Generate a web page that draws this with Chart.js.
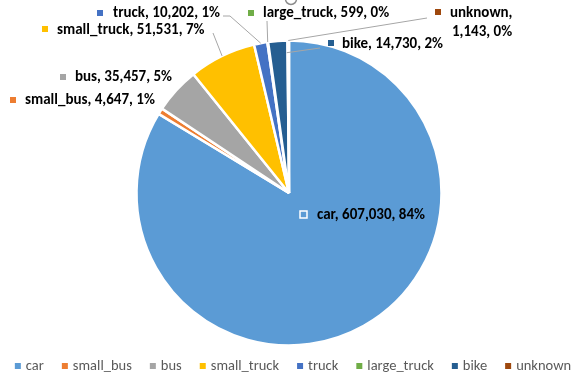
<!DOCTYPE html>
<html><head><meta charset="utf-8">
<script src="https://cdn.jsdelivr.net/npm/chart.js@4/dist/chart.umd.min.js"></script>
<style>html,body{margin:0;padding:0;background:#fff;}#wrap{width:578px;height:385px;position:relative;}</style>
</head><body><div id="wrap"><canvas id="c" width="578" height="385"></canvas></div>
<script>
const categories = ['car','small_bus','bus','small_truck','truck','large_truck','bike','unknown'];
const counts = [607030, 4647, 35457, 51531, 10202, 599, 14730, 1143];
const colors = ['#5B9BD5','#ED7D31','#A5A5A5','#FFC000','#4472C4','#70AD47','#255E91','#9E480E'];

const FONT = 'Carlito, Lato, "Open Sans", sans-serif';

// label placement (layout only)
const labelLayout = {
  car:         {mx:300, my:214, tx:317, ty:215, outlined:true},
  small_bus:   {mx:10,  my:100, tx:25,  ty:100},
  bus:         {mx:60,  my:77,  tx:75,  ty:77},
  small_truck: {mx:42,  my:29,  tx:57,  ty:30, leader:{from:[213,33], t:0.5, rf:1}},
  truck:       {mx:97,  my:13,  tx:113, ty:13, leader:{from:[223,16], via:[230,16], t:0.5, rf:1}},
  large_truck: {mx:248, my:13,  tx:263, ty:13, leader:{from:[267,21], t:0.5, rf:1}},
  bike:        {mx:328, my:43,  tx:342, ty:44, leader:{from:[320,48], t:0.95, rf:0.92}},
  unknown:     {mx:435, my:12,  tx:450, ty:13, wrapGap:19, leader:{from:[427,18], t:0.5, rf:1}}
};
const legendLayout = {centerX: 293, y: 366, box: 6, boxGap: 5, itemGap: 18, fontSize: 14.5};

const total = counts.reduce((a,b)=>a+b,0);
const fmt = v => v.toLocaleString('en-US');

const labelPlugin = {
  id: 'pieLabels',
  afterDraw(chart) {
    const ctx = chart.ctx;
    const meta = chart.getDatasetMeta(0);
    ctx.save();
    categories.forEach((cat, i) => {
      const L = labelLayout[cat];
      const arc = meta.data[i];
      const pct = Math.round(counts[i] / total * 100);
      if (L.leader) {
        const p = arc.getProps(['x','y','startAngle','endAngle','outerRadius'], true);
        const a = p.startAngle + (p.endAngle - p.startAngle) * L.leader.t;
        const r = p.outerRadius * L.leader.rf;
        const ex = p.x + Math.cos(a) * r, ey = p.y + Math.sin(a) * r;
        ctx.beginPath();
        ctx.strokeStyle = '#A6A6A6';
        ctx.lineWidth = 1;
        ctx.moveTo(L.leader.from[0], L.leader.from[1]);
        if (L.leader.via) ctx.lineTo(L.leader.via[0], L.leader.via[1]);
        ctx.lineTo(ex, ey);
        ctx.stroke();
      }
      if (L.outlined) {
        ctx.fillStyle = colors[i];
        ctx.fillRect(L.mx, L.my - 3, 7, 7);
        ctx.strokeStyle = '#fff';
        ctx.lineWidth = 1.5;
        ctx.strokeRect(L.mx, L.my - 3, 7, 7);
      } else {
        ctx.fillStyle = colors[i];
        ctx.fillRect(L.mx, L.my - 3, 6, 6);
      }
      ctx.fillStyle = '#000';
      ctx.font = 'bold 15px ' + FONT;
      ctx.textBaseline = 'middle';
      ctx.textAlign = 'left';
      if (L.wrapGap) {
        ctx.fillText(cat + ',', L.tx, L.ty);
        ctx.fillText(fmt(counts[i]) + ', ' + pct + '%', L.tx + 2, L.ty + L.wrapGap);
      } else {
        ctx.fillText(cat + ', ' + fmt(counts[i]) + ', ' + pct + '%', L.tx, L.ty);
      }
    });
    ctx.beginPath();
    ctx.strokeStyle = '#8C8C8C';
    ctx.lineWidth = 1.5;
    ctx.arc(291, -1, 5.5, 0, Math.PI * 2);
    ctx.stroke();

    // legend
    const G = legendLayout;
    ctx.font = G.fontSize + 'px ' + FONT;
    ctx.textBaseline = 'middle';
    const widths = categories.map(c => ctx.measureText(c).width);
    const totalW = widths.reduce((s, w) => s + G.box + G.boxGap + w, 0) + G.itemGap * (categories.length - 1);
    let x = G.centerX - totalW / 2;
    categories.forEach((cat, i) => {
      ctx.fillStyle = colors[i];
      ctx.fillRect(x, G.y - G.box / 2, G.box, G.box);
      ctx.fillStyle = '#595959';
      ctx.fillText(cat, x + G.box + G.boxGap, G.y);
      x += G.box + G.boxGap + widths[i] + G.itemGap;
    });
    ctx.restore();
  }
};

new Chart(document.getElementById('c'), {
  type: 'pie',
  data: {
    labels: categories,
    datasets: [{
      data: counts,
      backgroundColor: colors,
      borderColor: '#FFFFFF',
      borderWidth: 2.5,
      radius: 152.5
    }]
  },
  options: {
    responsive: false,
    animation: false,
    layout: {padding: {top: 40, bottom: 39, left: 0, right: 0}},
    plugins: {
      tooltip: {enabled: false},
      legend: {display: false}
    }
  },
  plugins: [labelPlugin]
});
</script>
</body></html>
